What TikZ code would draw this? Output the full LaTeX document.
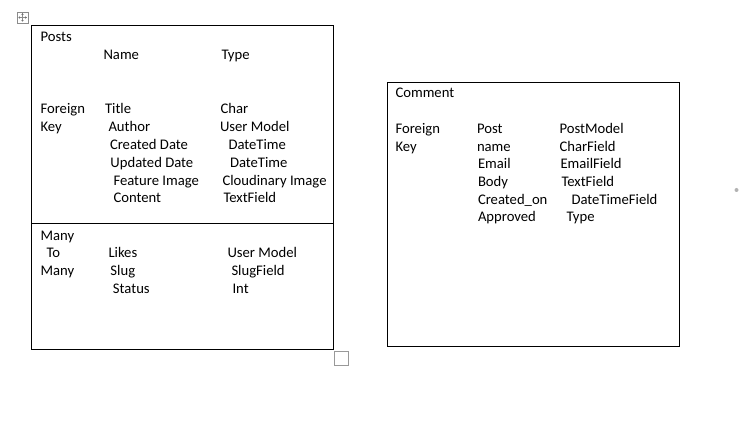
\documentclass[tikz,border=0pt]{standalone}
\usepackage{fontspec}
\setmainfont{Carlito}
\begin{document}
\begin{tikzpicture}[x=0.75pt,y=-0.75pt,
  txt/.style={anchor=base west,inner sep=0pt,outer sep=0pt,font=\fontsize{11}{13}\selectfont},
  box/.style={draw=black,line width=0.75pt},
  handle/.style={draw=black!45,line width=0.6pt}]
\useasboundingbox (0,0) rectangle (751,442);
% Posts table
\draw[box] (31,26) rectangle (333,350);
\draw[box] (31,224) -- (333,224);
% Comment table
\draw[box] (387,83) rectangle (679,347);
% move handle
\draw[handle] (17,12) rectangle (28,23);
\draw[handle,line width=0.5pt] (18.5,17.5) -- (26.5,17.5) (22.5,13.5) -- (22.5,21.5);
\fill[black!55] (18.3,17.5) -- (19.8,16.3) -- (19.8,18.7) -- cycle
  (26.7,17.5) -- (25.2,16.3) -- (25.2,18.7) -- cycle
  (22.5,13.3) -- (21.3,14.8) -- (23.7,14.8) -- cycle
  (22.5,21.7) -- (21.3,20.2) -- (23.7,20.2) -- cycle;
% resize handle
\draw[handle,draw=black!40] (334.5,351.5) rectangle (348.5,365.5);
% stray dot
\fill[black!30] (736.5,190) circle (2);
% Posts texts
\node[txt] (p0) at (40.5,42) {Posts};
\node[txt] (p1) at (103.5,60) {Name};
\node[txt] (p2) at (221.5,60) {Type};
\node[txt] (p3) at (40.5,114) {Foreign};
\node[txt] (p4) at (105,114) {Title};
\node[txt] (p5) at (220.5,114) {Char};
\node[txt] (p6) at (40.5,132) {Key};
\node[txt] (p7) at (108.5,132) {Author};
\node[txt] (p8) at (220,132) {User Model};
\node[txt] (p9) at (110,149.5) {Created Date};
\node[txt] (p10) at (228.5,149.5) {DateTime};
\node[txt] (p11) at (110.5,167.5) {Updated Date};
\node[txt] (p12) at (230,167.5) {DateTime};
\node[txt] (p13) at (113.5,185.5) {Feature Image};
\node[txt] (p14) at (222.5,185.5) {Cloudinary Image};
\node[txt] (p15) at (113.5,203) {Content};
\node[txt] (p16) at (223.5,203) {TextField};
\node[txt] (p17) at (40.5,240.5) {Many};
\node[txt] (p18) at (46.5,258) {To};
\node[txt] (p19) at (108.5,258) {Likes};
\node[txt] (p20) at (227.5,258) {User Model};
\node[txt] (p21) at (40.5,276) {Many};
\node[txt] (p22) at (110.5,276) {Slug};
\node[txt] (p23) at (231.5,276) {SlugField};
\node[txt] (p24) at (113,293.5) {Status};
\node[txt] (p25) at (232.5,293.5) {Int};
% Comment texts
\node[txt] (c0) at (395.5,98) {Comment};
\node[txt] (c1) at (395.5,133.5) {Foreign};
\node[txt] (c2) at (477,133.5) {Post};
\node[txt] (c3) at (559.5,133.5) {PostModel};
\node[txt] (c4) at (395.5,151.5) {Key};
\node[txt] (c5) at (477,151.5) {name};
\node[txt] (c6) at (559.5,151.5) {CharField};
\node[txt] (c7) at (478,169) {Email};
\node[txt] (c8) at (560.5,169) {EmailField};
\node[txt] (c9) at (478,187) {Body};
\node[txt] (c10) at (561.5,187) {TextField};
\node[txt] (c11) at (478,204.5) {Created\_on};
\node[txt] (c12) at (571.5,204.5) {DateTimeField};
\node[txt] (c13) at (478,222) {Approved};
\node[txt] (c14) at (566.5,222) {Type};
\end{tikzpicture}
\end{document}
